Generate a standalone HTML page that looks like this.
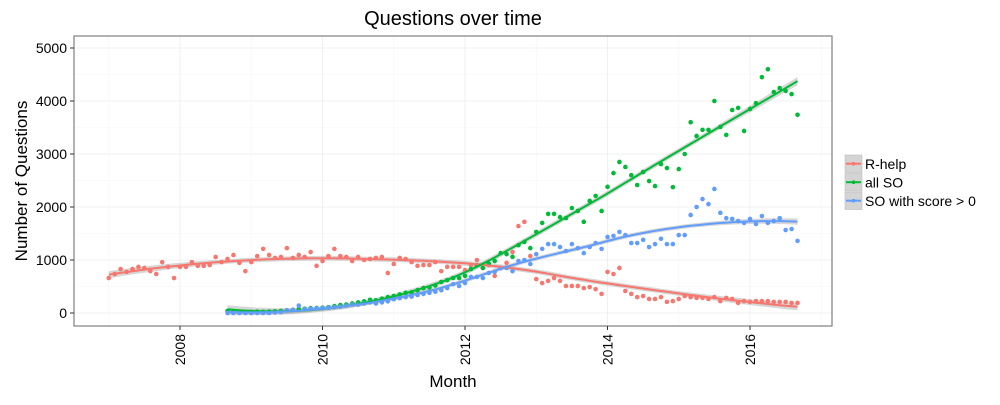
<!DOCTYPE html>
<html><head><meta charset="utf-8"><style>
body{margin:0;background:#fff;font-family:"Liberation Sans",sans-serif}
svg text{font-family:"Liberation Sans",sans-serif}
</style></head><body>
<svg id="chart" width="1000" height="400" xmlns="http://www.w3.org/2000/svg">
<rect width="1000" height="400" fill="#fff"/>
<g id="grid"></g><g id="bands"></g><g id="pts"></g><g id="lines"></g>
<rect x="74" y="36" width="758" height="290" fill="none" stroke="#7f7f7f" stroke-width="1.2"/>
<g id="axes"></g>
<text x="453" y="25" text-anchor="middle" font-size="20">Questions over time</text>
<text x="453" y="387" text-anchor="middle" font-size="17">Month</text>
<text transform="translate(27,181) rotate(-90)" text-anchor="middle" font-size="17">Number of Questions</text>
<g id="legend"></g>
</svg>
<script>
const rhelpStart = 2007.0;
const soStart = 2008.667;
const rhelpValues = [660,735,830,775,830,870,850,790,735,960,870,660,870,870,960,890,890,905,1057,960,1020,1095,945,790,960,1075,1210,1095,1040,1057,1225,1040,1095,1057,1150,890,980,1075,1210,1075,1057,980,1057,1000,1020,1040,1057,755,925,1040,1020,960,890,905,905,960,790,870,870,870,810,905,1000,850,905,700,850,945,1150,1640,1720,1075,640,565,605,660,605,510,510,510,470,490,450,360,775,735,850,415,360,300,320,265,265,300,210,225,265,320,300,285,285,265,300,225,285,265,190,225,210,225,225,225,210,210,210,190,190];
const allSOValues = [40,30,20,15,20,25,20,25,30,40,50,60,70,80,90,95,100,110,130,150,160,180,200,220,250,240,270,300,320,350,380,390,430,470,480,520,585,620,660,660,700,830,900,850,930,980,1130,1110,1060,1280,1340,1225,1530,1700,1870,1870,1810,1790,1980,1925,1720,2115,2210,1925,2380,2640,2850,2755,2600,2415,2660,2490,2395,2810,2735,2375,2715,3000,3600,3340,3455,3455,4000,3510,3360,3830,3870,3435,3850,3960,4450,4600,4170,4245,4190,4130,3740];
const scoredSOValues = [0,0,0,0,0,0,0,0,10,20,50,60,140,70,80,90,90,100,110,120,140,160,160,180,200,180,200,220,260,280,300,310,340,360,380,400,430,470,545,510,565,680,680,660,755,775,850,850,790,980,1000,925,1110,1210,1300,1300,1245,1170,1300,1225,1130,1245,1320,1210,1435,1455,1530,1470,1320,1320,1380,1245,1300,1400,1300,1300,1470,1470,1850,2000,2150,2055,2340,1890,1790,1775,1735,1700,1775,1680,1830,1700,1735,1790,1565,1585,1360];
const yTicks = [0,1000,2000,3000,4000,5000];
const xTicks = [2008,2010,2012,2014,2016];
const seriesNames = ["R-help","all SO","SO with score > 0"];
const seriesColors = ["#F8766D","#00BA38","#619CFF"];

const NS="http://www.w3.org/2000/svg";
const X=v=>180+(v-2008)*71.25;
const Y=v=>313-v*0.053;
function mk(tag,attrs,parent){const e=document.createElementNS(NS,tag);for(const k in attrs)e.setAttribute(k,attrs[k]);parent.appendChild(e);return e;}
const grid=document.getElementById('grid'),axes=document.getElementById('axes');
for(let v=500;v<=5000;v+=1000){const l=mk('line',{x1:74,x2:832,y1:Y(v),y2:Y(v),stroke:'#f5f5f5','stroke-width':0.6},grid);

}
for(let yr=2007;yr<=2017;yr+=2){const l=mk('line',{x1:X(yr),x2:X(yr),y1:36,y2:326,stroke:'#f5f5f5','stroke-width':0.6},grid);

}
yTicks.forEach(v=>{const l=mk('line',{x1:74,x2:832,y1:Y(v),y2:Y(v),stroke:'#ececec','stroke-width':0.8},grid);


const t=mk('line',{x1:70,x2:74,y1:Y(v),y2:Y(v),stroke:'#333','stroke-width':1},axes);


const tx=mk('text',{x:67,y:Y(v)+5,'text-anchor':'end','font-size':14,fill:'#000'},axes);tx.textContent=v;

});
xTicks.forEach(v=>{const l=mk('line',{x1:X(v),x2:X(v),y1:36,y2:326,stroke:'#ececec','stroke-width':0.8},grid);


const t=mk('line',{x1:X(v),x2:X(v),y1:326,y2:330,stroke:'#333','stroke-width':1},axes);


const tx=mk('text',{transform:`translate(${X(v)+5},334) rotate(-90)`,'text-anchor':'end','font-size':14,fill:'#000'},axes);tx.textContent=v;

});

function loess(xs,ys,span){const n=xs.length,q=Math.max(3,Math.floor(span*n));const fit=[];
for(let i=0;i<n;i++){const x0=xs[i];const d=xs.map(x=>Math.abs(x-x0));const h=[...d].sort((a,b)=>a-b)[q-1]*1.0001;
let sw=0,sx=0,sy=0,sxx=0,sxy=0,sxxx=0,sxxxx=0,sxxy=0;
for(let j=0;j<n;j++){let u=d[j]/h;if(u>=1)continue;const w=Math.pow(1-u*u*u,3);const dx=xs[j]-x0;
sw+=w;sx+=w*dx;sy+=w*ys[j];sxx+=w*dx*dx;sxy+=w*dx*ys[j];sxxx+=w*dx*dx*dx;sxxxx+=w*dx*dx*dx*dx;sxxy+=w*dx*dx*ys[j];}
// quadratic local fit, value at dx=0
const A=[[sw,sx,sxx],[sx,sxx,sxxx],[sxx,sxxx,sxxxx]],B=[sy,sxy,sxxy];
const det=m=>m[0][0]*(m[1][1]*m[2][2]-m[1][2]*m[2][1])-m[0][1]*(m[1][0]*m[2][2]-m[1][2]*m[2][0])+m[0][2]*(m[1][0]*m[2][1]-m[1][1]*m[2][0]);
const D=det(A);const A0=A.map((r,k)=>[B[k],r[1],r[2]]);fit.push(det(A0)/D);}
return fit;}
const series=[[rhelpStart,rhelpValues],[soStart,allSOValues],[soStart,scoredSOValues]];
const bands=document.getElementById('bands'),pts=document.getElementById('pts'),lines=document.getElementById('lines');
series.forEach(([st,vals],k)=>{const xs=vals.map((_,i)=>st+i/12);const f=loess(xs,vals,0.75);
let res=0;vals.forEach((v,i)=>res+=(v-f[i])**2);const sd=Math.sqrt(res/vals.length);
const n=vals.length;const se=xs.map((_,i)=>{const e=Math.min(i,n-1-i)/n;return sd*(0.28+0.9*Math.max(0,0.15-e));});
let up=xs.map((x,i)=>`${X(x).toFixed(1)},${Y(f[i]+se[i]).toFixed(1)}`),dn=xs.map((x,i)=>`${X(x).toFixed(1)},${Y(f[i]-se[i]).toFixed(1)}`).reverse();
const b=mk('polygon',{points:up.concat(dn).join(' '),fill:'#999','fill-opacity':0.4},bands);


vals.forEach((v,i)=>{const c=mk('circle',{cx:X(xs[i]),cy:Y(v),r:2.3,fill:seriesColors[k]},pts);

});
const ln=mk('polyline',{points:xs.map((x,i)=>`${X(x).toFixed(1)},${Y(f[i]).toFixed(1)}`).join(' '),fill:'none',stroke:seriesColors[k],'stroke-width':2},lines);

});
const lg=document.getElementById('legend');
seriesNames.forEach((nm,k)=>{const y=155+k*18.5;
const r=mk('rect',{x:845,y:y,width:17,height:17.5,fill:'#d4d4d4',stroke:'#bdbdbd','stroke-width':0.6},lg);


const l=mk('line',{x1:846,x2:861,y1:y+8.7,y2:y+8.7,stroke:seriesColors[k],'stroke-width':2},lg);


const c=mk('circle',{cx:853.5,cy:y+8.7,r:1.8,fill:seriesColors[k]},lg);


const t=mk('text',{x:865,y:y+14,'font-size':14},lg);t.textContent=nm;

});
</script>
</body></html>
